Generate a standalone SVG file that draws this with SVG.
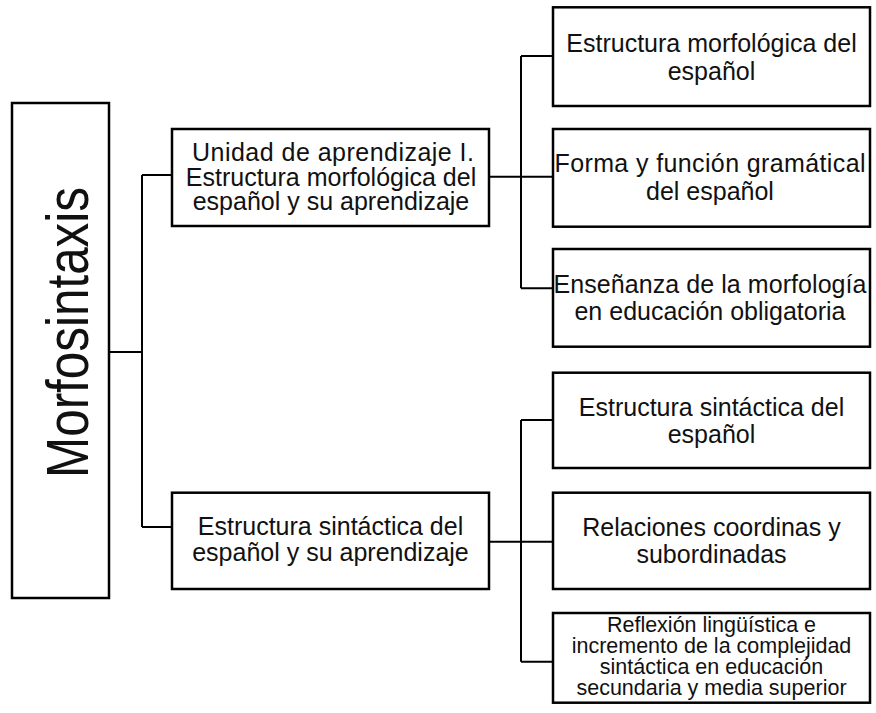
<svg xmlns="http://www.w3.org/2000/svg" width="876" height="713" viewBox="0 0 876 713">
<style>
.box{fill:#fff;stroke:#000;stroke-width:2.5}
.t{font-family:"Liberation Sans",Arial,sans-serif;font-size:25px;fill:#111;text-anchor:middle}
.s{font-size:21.5px}
.big{font-size:49.4px}
.c{fill:none;stroke:#000;stroke-width:2}
</style>
<rect width="876" height="713" fill="#fff"/>
<g id="connectors">
<path class="c" d="M109,352 H142 M142,175 V527 M142,175 H172 M142,527 H172"/>
<path class="c" d="M489,176.7 H553 M521,56 V288.3 M521,56 H553 M521,288.3 H553"/>
<path class="c" d="M489,541.7 H553 M521,420 V661.7 M521,420 H553 M521,661.7 H553"/>
</g>
<g id="n-root">
<rect class="box" x="12" y="103" width="97" height="495"/>
<text class="t big" transform="translate(88.3,332.5) scale(1.19,1) rotate(-90)" x="0" y="0">Morfosintaxis</text>
</g>
<g id="n-unidad1">
<rect class="box" x="172" y="129" width="317" height="97"/>
<text class="t" x="333" y="161" textLength="282" lengthAdjust="spacing">Unidad de aprendizaje I.</text>
<text class="t"><tspan x="331" y="186">Estructura morfológica del</tspan><tspan x="331" y="210">español y su aprendizaje</tspan></text>
</g>
<g id="n-unidad2">
<rect class="box" x="172" y="492.7" width="317" height="96.3"/>
<text class="t"><tspan x="330.5" y="535">Estructura sintáctica del</tspan><tspan x="330.5" y="561">español y su aprendizaje</tspan></text>
</g>
<g id="n-a">
<rect class="box" x="553" y="7.3" width="317" height="98.7"/>
<text class="t"><tspan x="711.5" y="52">Estructura morfológica del</tspan><tspan x="711.5" y="80">español</tspan></text>
</g>
<g id="n-b">
<rect class="box" x="553" y="129" width="317" height="97.7"/>
<text class="t" x="710" y="172" textLength="311" lengthAdjust="spacing">Forma y función gramátical</text>
<text class="t" x="710" y="200">del español</text>
</g>
<g id="n-c">
<rect class="box" x="553" y="249" width="317" height="97.7"/>
<text class="t" x="710" y="293" textLength="313" lengthAdjust="spacing">Enseñanza de la morfología</text>
<text class="t" x="710" y="320">en educación obligatoria</text>
</g>
<g id="n-d">
<rect class="box" x="553" y="372.7" width="317" height="95.3"/>
<text class="t"><tspan x="711.5" y="416">Estructura sintáctica del</tspan><tspan x="711.5" y="443">español</tspan></text>
</g>
<g id="n-e">
<rect class="box" x="553" y="492.7" width="317" height="96.3"/>
<text class="t"><tspan x="711.5" y="536">Relaciones coordinas y</tspan><tspan x="711.5" y="563">subordinadas</tspan></text>
</g>
<g id="n-f">
<rect class="box" x="553" y="613" width="317" height="89.7"/>
<text class="t s"><tspan x="711.5" y="632">Reflexión lingüística e</tspan><tspan x="711.5" y="653">incremento de la complejidad</tspan><tspan x="711.5" y="674">sintáctica en educación</tspan><tspan x="711.5" y="695">secundaria y media superior</tspan></text>
</g>
</svg>
